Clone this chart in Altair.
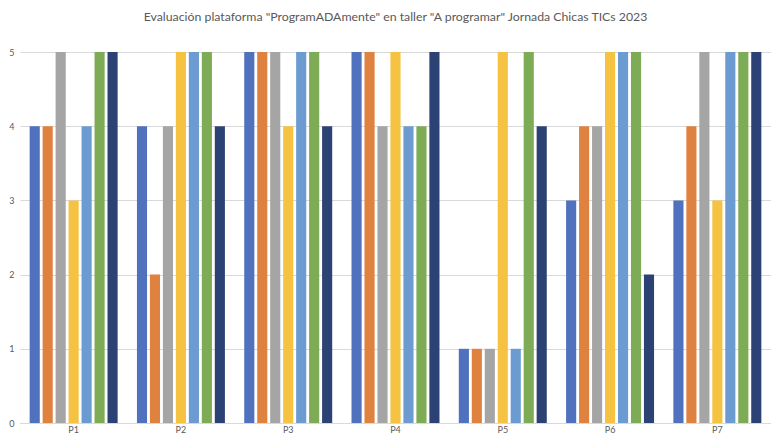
import altair as alt
import pandas as pd

groups = ["P1", "P2", "P3", "P4", "P5", "P6", "P7"]
series = ["Serie 1", "Serie 2", "Serie 3", "Serie 4", "Serie 5", "Serie 6", "Serie 7"]
values = [
    [4, 4, 5, 3, 4, 5, 5],  # P1
    [4, 2, 4, 5, 5, 5, 4],  # P2
    [5, 5, 5, 4, 5, 5, 4],  # P3
    [5, 5, 4, 5, 4, 4, 5],  # P4
    [1, 1, 1, 5, 1, 5, 4],  # P5
    [3, 4, 4, 5, 5, 5, 2],  # P6
    [3, 4, 5, 3, 5, 5, 5],  # P7
]
colors = ["#4F71BE", "#E0823F", "#A5A5A5", "#F5C242", "#6B9BD1", "#7EAB55", "#2C4274"]

rows = []
for g, vals in zip(groups, values):
    for s, v in zip(series, vals):
        rows.append({"grupo": g, "serie": s, "valor": v})
df = pd.DataFrame(rows)

chart = alt.Chart(df).mark_bar().encode(
    x=alt.X("grupo:N", sort=groups, title=None,
            scale=alt.Scale(paddingInner=0.18, paddingOuter=0.09),
            axis=alt.Axis(labelAngle=0, ticks=False, domainColor="#D9D9D9",
                          labelColor="#595959", labelFontSize=9, labelPadding=2,
                          labelFont="Lato")),
    xOffset=alt.XOffset("serie:N", sort=series,
                        scale=alt.Scale(paddingInner=0.22)),
    y=alt.Y("valor:Q", title=None,
            scale=alt.Scale(domain=[0, 5]),
            axis=alt.Axis(values=[0, 1, 2, 3, 4, 5], ticks=False, domain=False,
                          gridColor="#D9D9D9", labelColor="#595959",
                          labelFontSize=9, labelPadding=6, labelFont="Lato")),
    color=alt.Color("serie:N", sort=series,
                    scale=alt.Scale(domain=series, range=colors), legend=None),
).properties(
    width=763,
    height=426,
    padding={"left": 0, "right": 0, "top": 2, "bottom": 0},
    autosize=alt.AutoSizeParams(type="fit", contains="padding"),
    title=alt.TitleParams(
        'Evaluación plataforma "ProgramADAmente" en taller "A programar" Jornada Chicas TICs 2023',
        fontSize=12.3, font="Lato", fontWeight="normal", color="#595959", offset=25,
    ),
).configure_view(stroke=None)

chart.save("out.html", embed_options={"renderer": "svg", "actions": False})
